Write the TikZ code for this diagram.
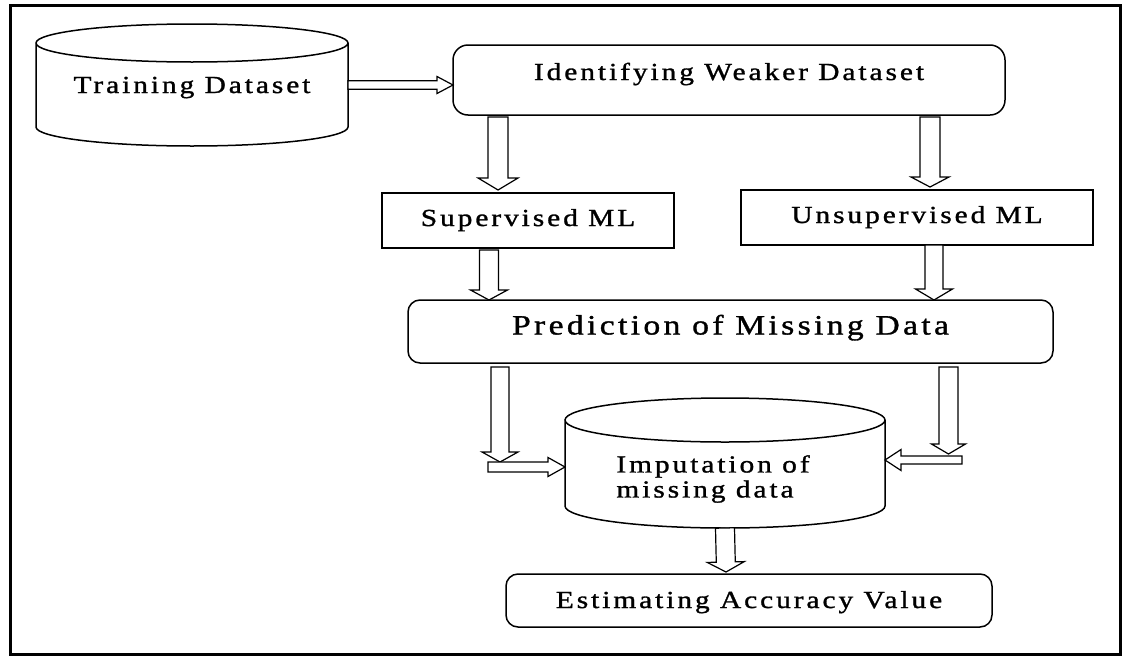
\documentclass[tikz,border=0pt]{standalone}
\usepackage{fontspec}
\setmainfont{Liberation Serif}[LetterSpace=12, FakeStretch=1.2, FakeBold=1.2]
\usetikzlibrary{calc}

% hollow block arrow: shaft half width, head half width, head length, from, to
\newcommand{\blockarrow}[5]{%
  \coordinate (ba start) at #4;
  \coordinate (ba tip) at #5;
  \coordinate (ba base) at ($(ba tip)!#3pt!(ba start)$);
  \draw [arrowline] ($(ba start)!#1pt!90:(ba tip)$) -- ($(ba base)!#1pt!90:(ba tip)$)
    -- ($(ba base)!#2pt!90:(ba tip)$) -- (ba tip) -- ($(ba base)!#2pt!-90:(ba tip)$)
    -- ($(ba base)!#1pt!-90:(ba tip)$) -- ($(ba start)!#1pt!-90:(ba tip)$) -- cycle;
}

\begin{document}
\begin{tikzpicture}[x = 1pt, y = 1pt,
  every node/.style = {font = \fontsize{24.5}{25}\selectfont, inner sep = 0pt, outer sep = 0pt},
  box/.style = {draw, line width = 1.5pt, text height = 16pt, text depth = 5pt},
  roundbox/.style = {box, rounded corners = 12pt},
  cylline/.style = {line width = 1.5pt},
  arrowline/.style = {draw, fill = white, line width = 1.2pt, line join = miter}]

\useasboundingbox (0,0) rectangle (1124,-656);
\draw [line width = 3pt] (10,-5.5) rectangle (1120,-654);

\node [minimum width = 312pt, minimum height = 84pt, text height = 16pt, text depth = 0pt] (train) at (192,-85) {Training Dataset};
\draw [cylline] (train.north west) -- (train.south west) arc [start angle = 180, end angle = 360, x radius = 156, y radius = 19]
  -- (train.north east) arc [start angle = 0, end angle = 360, x radius = 156, y radius = 19];

\node [roundbox, rounded corners = 15pt, minimum width = 552pt, minimum height = 70pt, text depth = 16pt] (ident) at (729,-80) {Identifying Weaker Dataset};
\node [box, minimum width = 292pt, minimum height = 55pt] (sup) at (528,-220.5) {Supervised ML};
\node [box, minimum width = 352pt, minimum height = 55pt] (unsup) at (917,-217.5) {Unsupervised ML};
\node [roundbox, minimum width = 645pt, minimum height = 63pt, font = \fontsize{28}{30}\selectfont, text height = 18pt, text depth = 12pt] (pred) at (730.5,-331.5) {Prediction of Missing Data};

\node [minimum width = 320pt, minimum height = 86pt] (impute) at (725,-463) {};
\draw [cylline] (impute.north west) -- (impute.south west) arc [start angle = 180, end angle = 360, x radius = 160, y radius = 22]
  -- (impute.north east) arc [start angle = 0, end angle = 360, x radius = 160, y radius = 22];
\node [align = left] (imputetext) at (713,-479) {Imputation of\\missing data};

\node [roundbox, minimum width = 486pt, minimum height = 53pt, text height = 17pt, text depth = 2pt] (est) at (749,-600.5) {Estimating Accuracy Value};

\coordinate (left bend) at (500,-462);
\coordinate (left turn) at (488,-467);
\coordinate (right bend) at (948.5,-454);
\coordinate (right turn) at (962,-460);

\blockarrow{4.25}{8.5}{16}{(train.east)}{(ident.west |- train.east)}
\blockarrow{10}{20}{12}{([xshift = -231pt, yshift = -2pt]ident.south)}{([xshift = -30pt, yshift = 3pt]sup.north)}
\blockarrow{10}{19}{10}{([xshift = 201pt, yshift = -2pt]ident.south)}{([xshift = 13pt, yshift = 3pt]unsup.north)}
\blockarrow{9.5}{18.5}{10}{([xshift = -39pt, yshift = -2pt]sup.south)}{([xshift = -241.5pt]pred.north)}
\blockarrow{9}{18.5}{11}{([xshift = 17pt]unsup.south)}{([xshift = 203.5pt]pred.north)}
\blockarrow{9}{18}{10}{([xshift = -230.5pt, yshift = -4pt]pred.south)}{(left bend)}
\blockarrow{9.5}{17}{10}{([xshift = 218pt, yshift = -4pt]pred.south)}{(right bend)}
\blockarrow{5}{9.5}{17}{(left turn)}{(impute.west |- left turn)}
\blockarrow{4}{10.5}{16}{(right turn)}{(impute.east |- right turn)}
\blockarrow{9.5}{18.5}{10}{([yshift = -22pt]impute.south)}{([xshift = -23pt, yshift = 2pt]est.north)}
\end{tikzpicture}
\end{document}
